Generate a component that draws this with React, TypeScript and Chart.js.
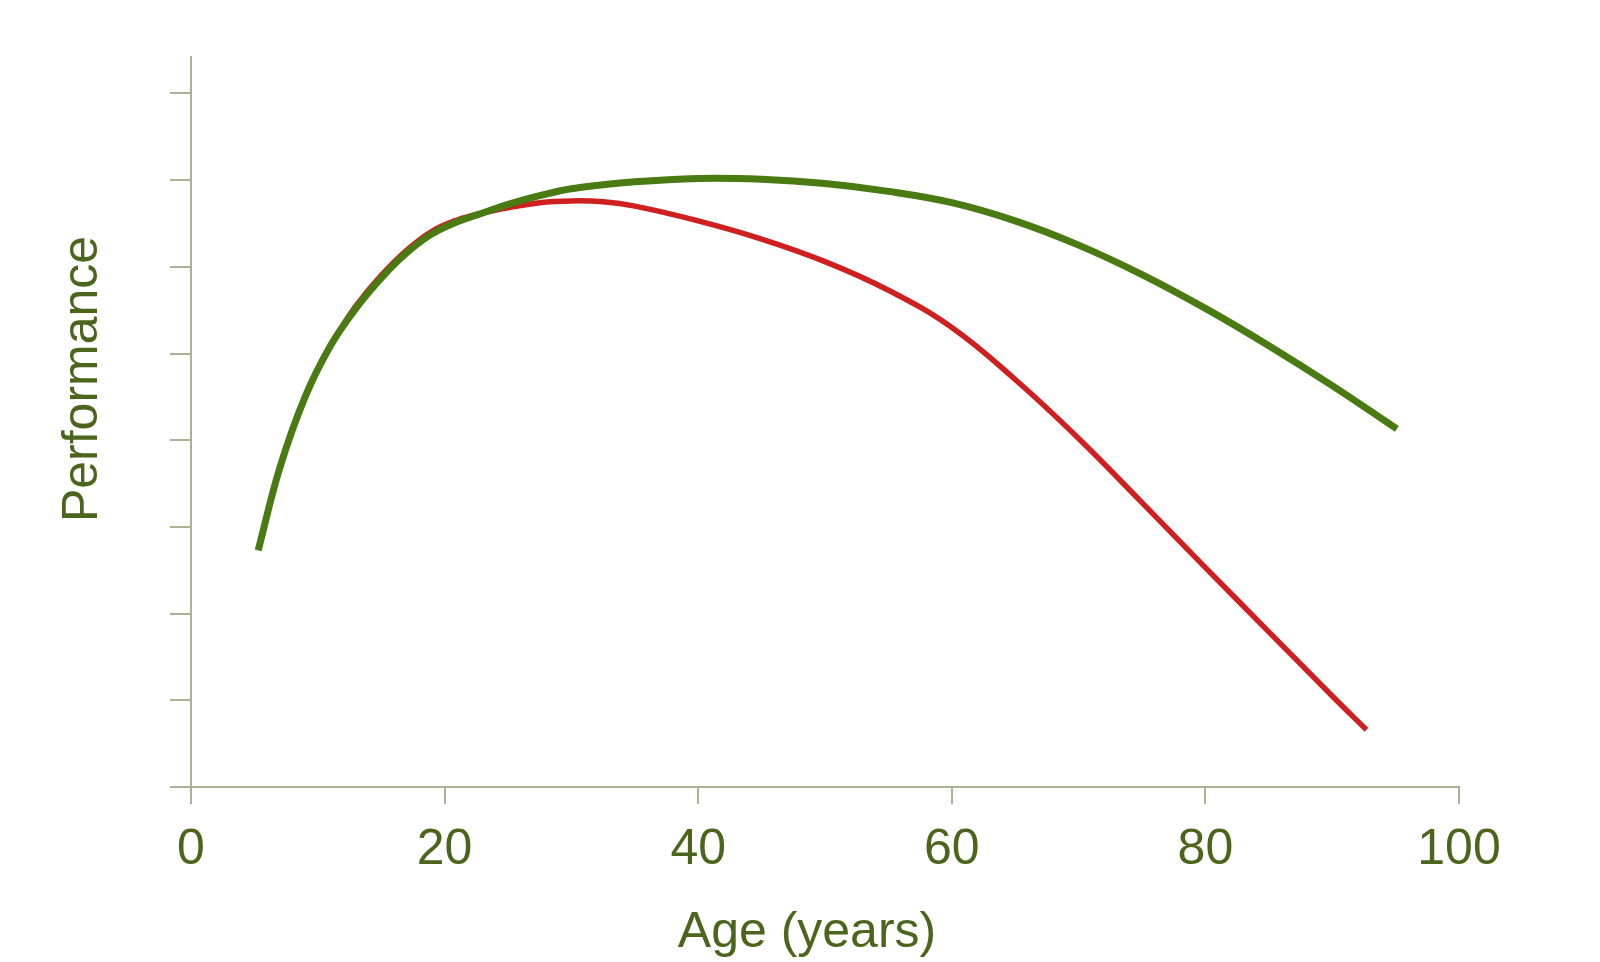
import { useEffect, useRef } from "react";
import { Chart, registerables } from "chart.js";

Chart.register(...registerables);

// values (age in years, performance in axis units)
const greenAges = [5.3, 7, 9, 11, 13, 15, 17, 19, 21, 23, 25, 27.5, 30, 35, 40, 45, 50, 55, 60, 65, 70, 75, 80, 85, 90, 95.1];
const greenPerf = [2.73, 3.68, 4.5, 5.09, 5.52, 5.87, 6.16, 6.38, 6.52, 6.62, 6.72, 6.82, 6.9, 6.98, 7.02, 7.01, 6.96, 6.87, 6.74, 6.53, 6.25, 5.91, 5.52, 5.09, 4.63, 4.13];

const redAges = [12, 13, 15, 17, 19, 21, 23, 25, 27.5, 30, 32.5, 35, 40, 45, 50, 55, 60, 65, 70, 75, 80, 85, 90, 92.7];
const redPerf = [5.33, 5.55, 5.9, 6.19, 6.41, 6.54, 6.62, 6.68, 6.74, 6.76, 6.75, 6.7, 6.53, 6.32, 6.06, 5.73, 5.3, 4.7, 4.02, 3.28, 2.53, 1.79, 1.05, 0.66];

const xTicks = [0, 20, 40, 60, 80, 100];
const xTitle = "Age (years)";
const yTitle = "Performance";

const axisColor = "#a9b393";
const textColor = "#4b651c";
const font = "'Liberation Sans', Arial, Helvetica, sans-serif";

// axis titles, placed off-centre the way the original has them
const titlesPlugin = {
  id: "axisTitles",
  afterDraw(chart: Chart) {
    const { ctx } = chart;
    const y = chart.scales.y;
    const x = chart.scales.x;
    ctx.save();
    ctx.fillStyle = textColor;
    ctx.font = `50px ${font}`;
    ctx.textAlign = "center";

    ctx.textBaseline = "alphabetic";
    ctx.fillText(xTitle, (x.left + x.right) / 2 - 18, 947);

    ctx.translate(83, (y.top + y.bottom) / 2 - 43);
    ctx.rotate(-Math.PI / 2);
    ctx.textBaseline = "middle";
    ctx.fillText(yTitle, 0, 0);
    ctx.restore();
  },
};

export default function App() {
  const canvasRef = useRef<HTMLCanvasElement>(null);
  const chartRef = useRef<Chart | null>(null);

  useEffect(() => {
    document.body.style.margin = "0";
    document.body.style.overflow = "hidden";
    if (!canvasRef.current) return;
    const ctx = canvasRef.current.getContext("2d");
    if (!ctx) return;

    if (chartRef.current) chartRef.current.destroy();

    chartRef.current = new Chart(ctx, {
      type: "line",
      data: {
        datasets: [
          {
            label: "red",
            data: redAges.map((a, i) => ({ x: a, y: redPerf[i] })),
            borderColor: "#cf1f1f",
            borderWidth: 5.5,
            borderCapStyle: "butt",
            pointRadius: 0,
            tension: 0.4,
            order: 2,
          },
          {
            label: "green",
            data: greenAges.map((a, i) => ({ x: a, y: greenPerf[i] })),
            borderColor: "#4a7a12",
            borderWidth: 7,
            borderCapStyle: "butt",
            pointRadius: 0,
            tension: 0.4,
            order: 1,
          },
        ],
      },
      options: {
        animation: false,
        responsive: true,
        maintainAspectRatio: false,
        layout: { padding: { left: 0, top: 57, right: 141, bottom: 0 } },
        plugins: { legend: { display: false }, tooltip: { enabled: false } },
        scales: {
          x: {
            type: "linear",
            min: 0,
            max: 100,
            afterBuildTicks: (scale) => {
              scale.ticks = xTicks.map((v) => ({ value: v }));
            },
            afterFit: (scale) => {
              scale.height = 175;
            },
            grid: { drawOnChartArea: false, tickLength: 17, color: axisColor, lineWidth: 2 },
            border: { color: axisColor, width: 2 },
            ticks: { color: textColor, padding: 16, font: { family: font, size: 50 } },
          },
          y: {
            type: "linear",
            min: 0,
            max: 8.42,
            afterFit: (scale) => {
              scale.width = 191;
            },
            grid: { drawOnChartArea: false, tickLength: 21, color: axisColor, lineWidth: 2 },
            border: { color: axisColor, width: 2 },
            ticks: { display: false, stepSize: 1, includeBounds: false },
          },
        },
      },
      plugins: [titlesPlugin],
    });

    return () => chartRef.current?.destroy();
  }, []);

  return (
    <div style={{ width: 1600, height: 962, background: "#fff" }}>
      <canvas ref={canvasRef}></canvas>
    </div>
  );
}
